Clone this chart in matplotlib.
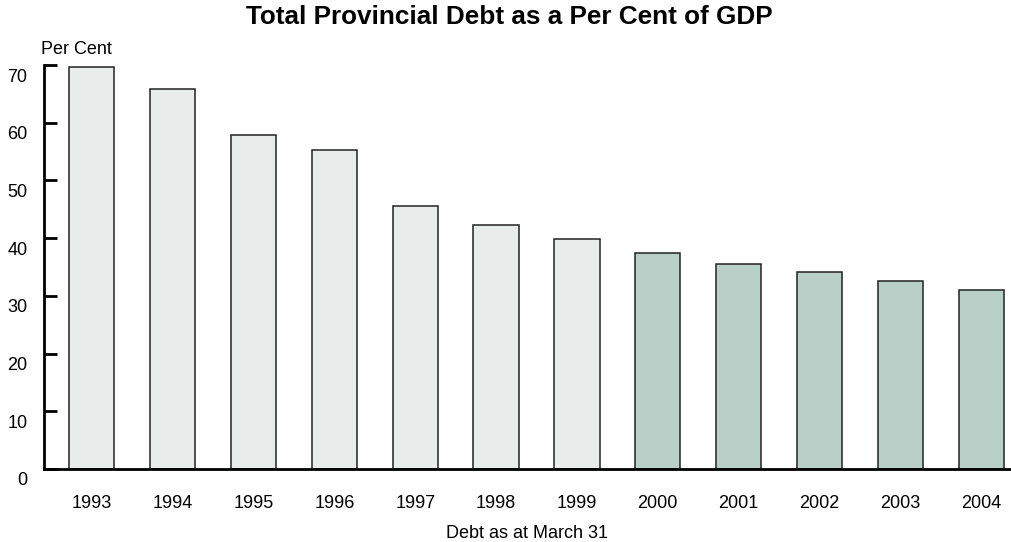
import matplotlib.pyplot as plt
import matplotlib.transforms as mtransforms
import numpy as np

plt.rcParams['font.family'] = ['Liberation Sans', 'DejaVu Sans']

years = ['1993', '1994', '1995', '1996', '1997', '1998', '1999',
         '2000', '2001', '2002', '2003', '2004']
debt = [69.7, 65.9, 57.9, 55.3, 45.6, 42.3, 39.9,
        37.4, 35.6, 34.2, 32.6, 31.1]
first_forecast = '2000'

light = '#e8ecea'
dark = '#b9d0c8'

fig = plt.figure(figsize=(10.12, 5.42), dpi=100)
ax = fig.add_axes([0.0435, 0.1347, 0.9565, 0.7453])

x = np.arange(len(years))
split = years.index(first_forecast)
colors = [light if i < split else dark for i in range(len(years))]
ax.bar(x, debt, width=0.56, color=colors, edgecolor='#222222', linewidth=1.1)

ax.set_xlim(-0.59, len(years) - 0.62)
ax.set_ylim(0, 70)
ax.set_yticks(np.arange(0, 71, 10))
ax.set_xticks(x)
ax.set_xticklabels(years)

for s in ['top', 'right']:
    ax.spines[s].set_visible(False)
for s in ['left', 'bottom']:
    ax.spines[s].set_linewidth(2)

ax.tick_params(axis='y', direction='in', length=9, width=2, pad=12, labelsize=13)
ax.tick_params(axis='x', length=0, pad=19, labelsize=13)

# y labels sit a bit below their ticks
offset = mtransforms.ScaledTranslation(0, -10 / 100, fig.dpi_scale_trans)
for lab in ax.get_yticklabels():
    lab.set_transform(lab.get_transform() + offset)

fig.text(0.503, 0.969, 'Total Provincial Debt as a Per Cent of GDP',
         ha='center', va='center', fontsize=18.8, fontweight='bold')
fig.text(0.0405, 0.908, 'Per Cent', ha='left', va='center', fontsize=13)
fig.text(0.521, 0.0166, 'Debt as at March 31', ha='center', va='center', fontsize=13)

fig.savefig('out.png', dpi=100)
